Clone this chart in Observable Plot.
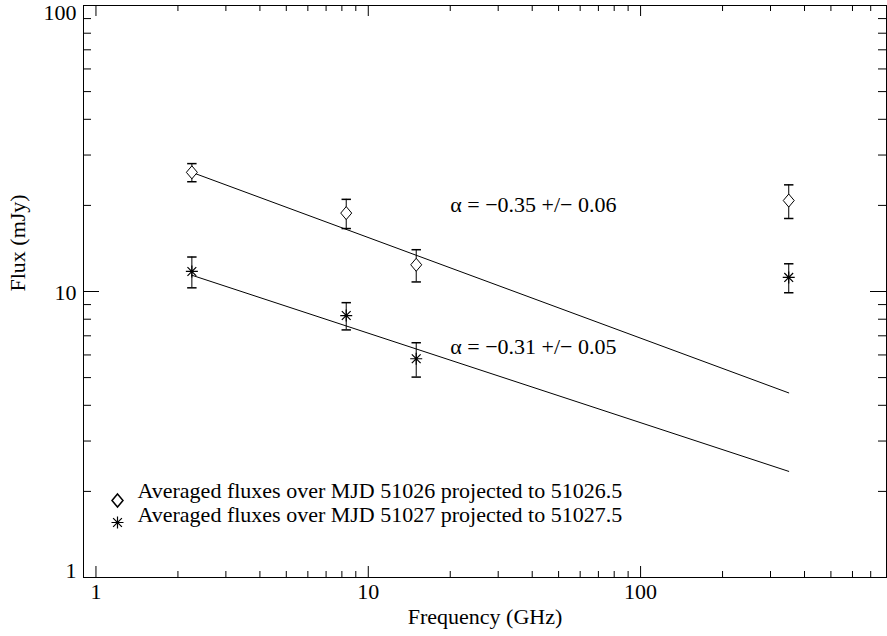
<!DOCTYPE html>
<html>
<head>
<meta charset="utf-8">
<script src="https://cdn.jsdelivr.net/npm/d3@7"></script>
<script src="https://cdn.jsdelivr.net/npm/@observablehq/plot@0.6"></script>
<style>
  html, body { margin: 0; padding: 0; background: white; }
  #chart svg, #chart svg text, #chart svg g { font-family: "Liberation Serif", "Times New Roman", Times, serif !important; }
</style>
</head>
<body>
<div id="chart"></div>
<script>
// ---- data ----
const freq = [2.25, 8.3, 15, 350];                 // GHz
const flux26 = [26.1, 18.8, 12.4, 20.8];           // mJy, diamonds
const err26 = [1.9, 2.2, 1.6, 2.8];
const flux27 = [11.75, 8.24, 5.82, 11.2];          // mJy, asterisks
const err27 = [1.45, 0.9, 0.8, 1.3];
const fitX = [2.25, 350];
const fit26 = [26.1, 4.42];
const fit27 = [11.4, 2.35];
const xMajor = [1, 10, 100];
const xMinor = [2, 3, 4, 5, 6, 7, 8, 9, 20, 30, 40, 50, 60, 70, 80, 90, 200, 300, 400, 500, 600, 700];
const yMajor = [1, 10, 100];
const yMinor = [2, 3, 4, 5, 6, 7, 8, 9, 20, 30, 40, 50, 60, 70, 80, 90];
const annot = [
  {x: 20, y: 20, label: "α = −0.35 +/− 0.06"},
  {x: 20, y: 6.4, label: "α = −0.31 +/− 0.05"}
];
const legendLabels = [
  "Averaged fluxes over MJD 51026 projected to 51026.5",
  "Averaged fluxes over MJD 51027 projected to 51027.5"
];

const d26 = freq.map((f, i) => ({f, v: flux26[i], lo: flux26[i] - err26[i], hi: flux26[i] + err26[i]}));
const d27 = freq.map((f, i) => ({f, v: flux27[i], lo: flux27[i] - err27[i], hi: flux27[i] + err27[i]}));
const l26 = fitX.map((f, i) => ({f, v: fit26[i]}));
const l27 = fitX.map((f, i) => ({f, v: fit27[i]}));

// custom symbols (IDL-like)
const cap = {draw(ctx) { ctx.moveTo(-4.7, 0); ctx.lineTo(4.7, 0); }};
const diamond = {draw(ctx) {
  ctx.moveTo(0, -6.5); ctx.lineTo(5.5, 0); ctx.lineTo(0, 6.5); ctx.lineTo(-5.5, 0); ctx.closePath();
}};
const asterisk = {draw(ctx) {
  const r = 6, d = 4.4;
  ctx.moveTo(-r, 0); ctx.lineTo(r, 0);
  ctx.moveTo(0, -r); ctx.lineTo(0, r);
  ctx.moveTo(-d, -d); ctx.lineTo(d, d);
  ctx.moveTo(-d, d); ctx.lineTo(d, -d);
}};

const FW = 803, FH = 572;
const font = 22;
const ff = "'Liberation Serif', 'Times New Roman', Times, serif";

const chart = Plot.plot({
  width: 887,
  height: 636,
  marginLeft: 83,
  marginRight: 1,
  marginTop: 5,
  marginBottom: 59,
  x: {type: "log", domain: [0.9, 800], axis: null},
  y: {type: "log", domain: [1, 100], axis: null},
  style: {fontFamily: ff, fontSize: font + "px", background: "white", color: "black"},
  marks: [
    // ticks (inward, all four sides)
    Plot.ruleX(xMajor, {x: d => d, insetTop: FH - 11, stroke: "black"}),
    Plot.ruleX(xMinor, {x: d => d, insetTop: FH - 6, stroke: "black"}),
    Plot.ruleX(xMajor, {x: d => d, insetBottom: FH - 11, stroke: "black"}),
    Plot.ruleX(xMinor, {x: d => d, insetBottom: FH - 6, stroke: "black"}),
    Plot.ruleY(yMajor, {y: d => d, insetRight: FW - 16, stroke: "black"}),
    Plot.ruleY(yMinor, {y: d => d, insetRight: FW - 8, stroke: "black"}),
    Plot.ruleY(yMajor, {y: d => d, insetLeft: FW - 16, stroke: "black"}),
    Plot.ruleY(yMinor, {y: d => d, insetLeft: FW - 8, stroke: "black"}),
    Plot.frame({stroke: "black"}),
    // tick labels
    Plot.text(xMajor, {x: d => d, frameAnchor: "bottom", dy: 21, text: d => String(d), fontSize: font, fontFamily: ff}),
    Plot.text([100], {y: d => d, frameAnchor: "left", dx: -7, dy: 7, textAnchor: "end", text: d => String(d), fontSize: font, fontFamily: ff}),
    Plot.text([10], {y: d => d, frameAnchor: "left", dx: -7, dy: 1, textAnchor: "end", text: d => String(d), fontSize: font, fontFamily: ff}),
    Plot.text([1], {y: d => d, frameAnchor: "left", dx: -7, dy: -7, textAnchor: "end", text: d => String(d), fontSize: font, fontFamily: ff}),
    // axis titles
    Plot.text(["Frequency (GHz)"], {frameAnchor: "bottom", dy: 46, text: d => d, fontSize: font, fontFamily: ff}),
    Plot.text(["Flux (mJy)"], {frameAnchor: "left", dx: -66, rotate: -90, text: d => d, fontSize: font, fontFamily: ff}),
    // fit lines
    Plot.line(l26, {x: "f", y: "v", stroke: "black", strokeWidth: 1}),
    Plot.line(l27, {x: "f", y: "v", stroke: "black", strokeWidth: 1}),
    // error bars
    Plot.ruleX(d26, {x: "f", y1: "lo", y2: "hi", stroke: "black"}),
    Plot.dot(d26, {x: "f", y: "lo", symbol: cap, stroke: "black", fill: "none"}),
    Plot.dot(d26, {x: "f", y: "hi", symbol: cap, stroke: "black", fill: "none"}),
    Plot.ruleX(d27, {x: "f", y1: "lo", y2: "hi", stroke: "black"}),
    Plot.dot(d27, {x: "f", y: "lo", symbol: cap, stroke: "black", fill: "none"}),
    Plot.dot(d27, {x: "f", y: "hi", symbol: cap, stroke: "black", fill: "none"}),
    // points
    Plot.dot(d26, {x: "f", y: "v", symbol: diamond, stroke: "black", fill: "white", strokeWidth: 1}),
    Plot.dot(d27, {x: "f", y: "v", symbol: asterisk, stroke: "black", fill: "none", strokeWidth: 1.2}),
    // annotations
    Plot.text(annot, {x: "x", y: "y", text: "label", textAnchor: "start", fontSize: font, fontFamily: ff}),
    // legend
    Plot.dot([legendLabels[0]], {frameAnchor: "bottom-left", dx: 34, dy: -77, symbol: diamond, stroke: "black", fill: "none"}),
    Plot.dot([legendLabels[1]], {frameAnchor: "bottom-left", dx: 34, dy: -55, symbol: asterisk, stroke: "black", fill: "none", strokeWidth: 1.2}),
    Plot.text([legendLabels[0]], {frameAnchor: "bottom-left", dx: 54, dy: -80, text: d => d, textAnchor: "start", fontSize: font, fontFamily: ff}),
    Plot.text([legendLabels[1]], {frameAnchor: "bottom-left", dx: 54, dy: -56, text: d => d, textAnchor: "start", fontSize: font, fontFamily: ff})
  ]
});
document.getElementById("chart").appendChild(chart);
</script>
</body>
</html>
